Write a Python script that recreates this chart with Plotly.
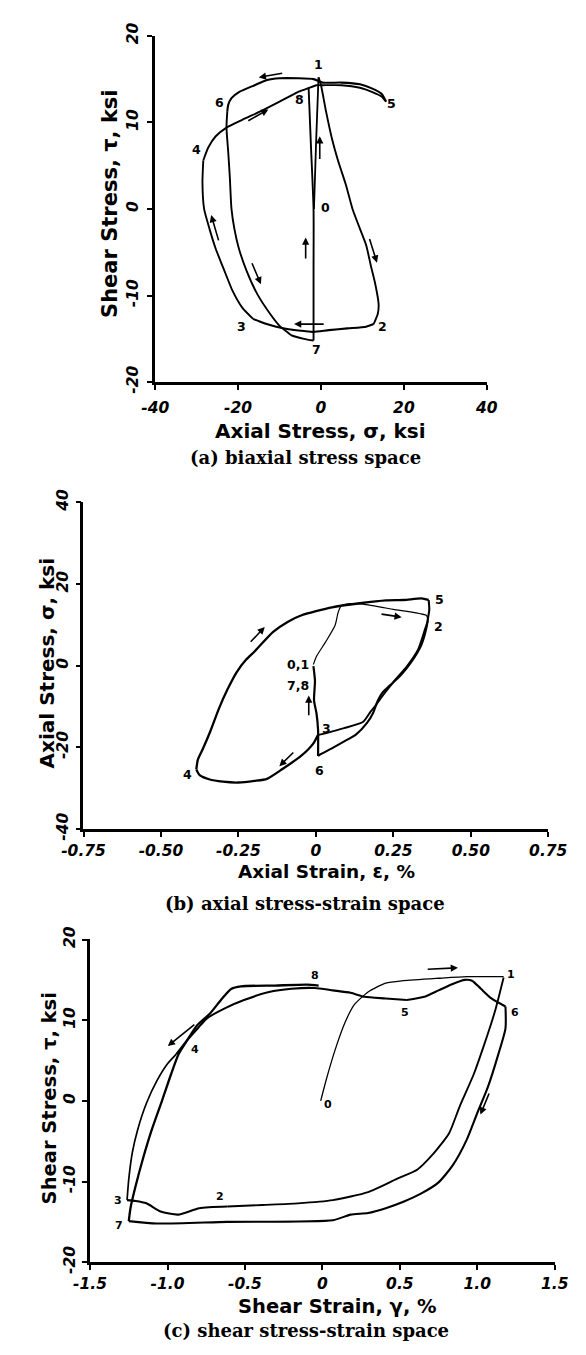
import plotly.graph_objects as go

# ---------------- Panel (a): biaxial stress space (sigma, tau in ksi) -------------
A_SIG_01 = [-1.7, -1.2, -0.6]
A_TAU_01 = [0.0, 7.5, 15.2]
A_SIG_12 = [-0.6, 0.0, 1.2, 2.6, 4.1, 6.0, 7.6, 9.4, 10.9, 12.0, 13.1, 13.9, 13.7, 12.7]
A_TAU_12 = [15.2, 14.3, 11.3, 8.2, 5.6, 2.8, 0.0, -2.3, -4.2, -6.5, -8.7, -11.0, -12.1, -13.3]
A_SIG_23 = [12.7, 10.9, 6.4, 1.9, -1.8, -4.1, -7.8, -10.8, -13.1, -15.3, -16.4]
A_TAU_23 = [-13.3, -13.6, -13.8, -14.0, -14.2, -14.1, -13.9, -13.6, -13.3, -12.9, -12.7]
A_SIG_34 = [-16.4, -19.0, -21.3, -23.5, -25.4, -26.9, -28.2, -28.6, -28.4]
A_TAU_34 = [-12.7, -11.4, -9.5, -6.9, -4.6, -2.3, 0.0, 3.0, 5.6]
A_SIG_45 = [-28.4, -27.2, -25.4, -22.8, -19.0, -14.5, -10.0, -5.6, -3.3, -1.1, 0.4, 4.9, 9.4, 12.4, 14.6, 15.7]
A_TAU_45 = [5.6, 7.1, 8.4, 9.4, 10.3, 11.3, 12.4, 13.5, 13.9, 14.3, 14.3, 14.3, 14.0, 13.5, 13.0, 12.4]
A_SIG_56 = [15.7, 14.6, 12.4, 9.4, 4.9, 0.4, -1.8, -5.6, -10.0, -13.0, -16.0, -19.8, -21.6, -22.4, -22.6]
A_TAU_56 = [12.4, 13.3, 13.9, 14.4, 14.6, 14.6, 15.0, 15.1, 15.1, 14.9, 14.3, 13.5, 12.8, 12.0, 11.3]
A_SIG_67 = [-22.6, -22.8, -22.4, -22.0, -21.6, -20.9, -19.8, -17.9, -15.3, -12.3, -10.0, -8.2, -7.1, -4.1, -1.8]
A_TAU_67 = [11.3, 9.4, 6.7, 3.7, 0.0, -2.3, -4.6, -7.2, -9.9, -12.1, -13.5, -14.2, -14.6, -15.0, -15.2]
A_SIG_78 = [-1.8, -1.8, -1.8, -2.4, -3.0]
A_TAU_78 = [-15.2, -7.0, 0.0, 7.0, 14.1]
A_LABELS = ["0", "1", "2", "3", "4", "5", "6", "7", "8"]
A_LAB_SIG = [1.0, -0.7, 14.8, -19.2, -30.0, 17.0, -24.4, -1.0, -5.3]
A_LAB_TAU = [0.2, 16.7, -13.6, -13.6, 6.9, 12.2, 12.3, -16.2, 12.6]
# arrows: tail -> head
A_ARR_SIG_TAIL = [-9.0, -17.9, -0.3, -3.7, 11.6, -24.6, -16.8, 1.0]
A_ARR_TAU_TAIL = [15.7, 10.1, 5.6, -5.9, -3.3, -3.8, -6.1, -13.3]
A_ARR_SIG_HEAD = [-15.0, -12.7, -0.3, -3.7, 13.5, -26.5, -14.5, -6.5]
A_ARR_TAU_HEAD = [15.2, 11.5, 8.4, -3.3, -6.2, -0.7, -8.7, -13.3]

# ---------------- Panel (b): axial stress-strain space (eps %, sigma ksi) ---------
B_EPS_12 = [-0.008, 0.002, 0.032, 0.062, 0.072, 0.082, 0.11, 0.152, 0.25, 0.357, 0.362]
B_SIG_12 = [0.3, 2.3, 5.9, 9.9, 13.1, 14.7, 15.2, 15.1, 13.8, 12.3, 11.1]
B_EPS_23 = [0.362, 0.352, 0.330, 0.295, 0.25, 0.216, 0.193, 0.176, 0.153, 0.091, 0.034, 0.006]
B_SIG_23 = [11.1, 8.9, 4.0, 0.0, -4.0, -7.3, -9.7, -11.3, -13.7, -15.3, -16.5, -17.0]
B_EPS_34 = [0.006, -0.008, -0.048, -0.108, -0.158, -0.198, -0.25, -0.30, -0.345, -0.375, -0.386]
B_SIG_34 = [-17.0, -19.0, -22.1, -25.3, -27.7, -28.2, -28.6, -28.4, -27.8, -26.8, -25.4]
B_EPS_45 = [-0.386, -0.381, -0.364, -0.341, -0.313, -0.284, -0.256, -0.225, -0.198, -0.138, -0.09, -0.048, 0.052, 0.142, 0.227, 0.284, 0.341, 0.364]
B_SIG_45 = [-25.4, -23.0, -20.2, -16.1, -10.5, -5.6, -1.6, 1.5, 3.5, 8.3, 10.8, 12.3, 14.3, 15.3, 16.0, 16.1, 16.5, 16.1]
B_EPS_56 = [0.364, 0.366, 0.361, 0.358, 0.341, 0.307, 0.273, 0.239, 0.216, 0.200, 0.185, 0.165, 0.13, 0.09, 0.05, 0.012, 0.007]
B_SIG_56 = [16.1, 13.7, 11.3, 9.7, 5.2, 0.8, -2.4, -4.8, -6.5, -8.5, -11.5, -14.0, -16.8, -18.6, -20.3, -21.8, -22.1]
B_EPS_67 = [0.007, 0.007, 0.002, -0.006, -0.003, -0.008]
B_SIG_67 = [-22.1, -15.7, -11.7, -8.5, -3.7, -0.1]
B_LABELS = ["0,1", "7,8", "3", "6", "2", "5", "4"]
B_LAB_EPS = [-0.058, -0.058, 0.035, 0.012, 0.395, 0.398, -0.415]
B_LAB_SIG = [0.3, -4.9, -15.3, -25.6, 9.5, 16.3, -26.6]
B_ARR_EPS_TAIL = [-0.215, 0.207, -0.023, -0.068]
B_ARR_SIG_TAIL = [5.5, 12.7, -12.5, -20.9]
B_ARR_EPS_HEAD = [-0.165, 0.277, -0.023, -0.118]
B_ARR_SIG_HEAD = [9.5, 11.9, -7.3, -24.6]

# ---------------- Panel (c): shear stress-strain space (gamma %, tau ksi) ---------
C_GAM_01 = [-0.011, 0.023, 0.080, 0.148, 0.205, 0.295, 0.409, 0.523, 0.75, 0.932, 1.170]
C_TAU_01 = [0.0, 2.5, 6.2, 9.8, 11.9, 13.5, 14.6, 14.9, 15.2, 15.4, 15.4]
C_GAM_12 = [1.170, 1.114, 1.045, 0.977, 0.886, 0.818, 0.705, 0.614, 0.477, 0.295, 0.068, -0.159, -0.386, -0.614]
C_TAU_12 = [15.3, 11.1, 7.0, 3.3, -0.7, -4.0, -6.8, -8.5, -9.7, -11.3, -12.3, -12.7, -12.9, -13.1]
C_GAM_23 = [-0.614, -0.795, -0.932, -1.045, -1.136, -1.205, -1.261]
C_TAU_23 = [-13.1, -13.3, -14.1, -13.7, -12.7, -12.4, -12.3]
C_GAM_34 = [-1.261, -1.25, -1.227, -1.193, -1.136, -1.068, -1.0, -0.943]
C_TAU_34 = [-12.3, -9.7, -6.4, -3.6, -0.3, 2.5, 4.6, 5.8]
C_GAM_45 = [-0.943, -0.87, -0.80, -0.747, -0.627, -0.506, -0.345, -0.2, -0.05, 0.068, 0.182, 0.273, 0.409, 0.545]
C_TAU_45 = [5.8, 7.6, 9.1, 10.2, 11.5, 12.5, 13.5, 13.9, 14.0, 13.7, 13.4, 12.9, 12.7, 12.5]
C_GAM_56 = [0.545, 0.659, 0.75, 0.841, 0.920, 0.966, 1.023, 1.091, 1.182]
C_TAU_56 = [12.5, 12.9, 13.7, 14.5, 15.0, 14.9, 13.9, 12.7, 11.7]
C_GAM_67 = [1.182, 1.182, 1.136, 1.068, 1.0, 0.932, 0.841, 0.75, 0.636, 0.523, 0.409, 0.295, 0.182, 0.068, -0.614, -1.068, -1.25]
C_TAU_67 = [11.7, 9.0, 5.8, 1.7, -1.5, -4.8, -8.0, -10.1, -11.5, -12.5, -13.3, -13.9, -14.1, -14.8, -15.0, -15.2, -14.9]
C_GAM_78 = [-1.25, -1.239, -1.205, -1.159, -1.102, -1.034, -0.977, -0.928, -0.87, -0.807, -0.727, -0.647, -0.587, -0.526, -0.305, -0.1, -0.024]
C_TAU_78 = [-14.9, -13.3, -10.5, -7.2, -3.6, 0.1, 3.3, 5.8, 7.6, 9.4, 10.8, 12.7, 13.9, 14.2, 14.3, 14.4, 14.3]
C_LABELS = ["0", "1", "2", "3", "4", "5", "6", "7", "8"]
C_LAB_GAM = [0.034, 1.216, -0.659, -1.318, -0.823, 0.534, 1.245, -1.314, -0.05]
C_LAB_TAU = [-0.4, 15.7, -11.9, -12.3, 6.4, 11.0, 11.0, -15.4, 15.5]
C_ARR_GAM_TAIL = [0.67, 1.08, -0.817]
C_ARR_TAU_TAIL = [16.3, 1.1, 9.6]
C_ARR_GAM_HEAD = [0.875, 1.02, -0.998]
C_ARR_TAU_HEAD = [16.5, -1.7, 6.8]

# ---------------- Axes, ticks, titles ----------------
A_XTICKS = [-40, -20, 0, 20, 40]
A_XTEXT = ["-40", "-20", "0", "20", "40"]
A_YTICKS = [-20, -10, 0, 10, 20]
A_YTEXT = ["-20", "-10", "0", "10", "20"]
B_XTICKS = [-0.75, -0.5, -0.25, 0, 0.25, 0.5, 0.75]
B_XTEXT = ["-0.75", "-0.50", "-0.25", "0", "0.25", "0.50", "0.75"]
B_YTICKS = [-40, -20, 0, 20, 40]
B_YTEXT = ["-40", "-20", "0", "20", "40"]
C_XTICKS = [-1.5, -1.0, -0.5, 0, 0.5, 1.0, 1.5]
C_XTEXT = ["-1.5", "-1.0", "-0.5", "0", "0.5", "1.0", "1.5"]
C_YTICKS = [-20, -10, 0, 10, 20]
C_YTEXT = ["-20", "-10", "0", "10", "20"]

TITLES_X = ["Axial Stress, σ, ksi", "Axial Strain, ε, %", "Shear Strain, γ, %"]
TITLES_Y = ["Shear Stress, τ, ksi", "Axial Stress, σ, ksi", "Shear Stress, τ, ksi"]
CAPTIONS = ["(a) biaxial stress space", "(b) axial stress-strain space", "(c) shear stress-strain space"]

W, H = 586, 1355
def px(x):
    return x / W
def py(y):
    return 1 - y / H

fig = go.Figure()

def add_line(xs, ys, xa, ya, width=2.0):
    fig.add_trace(go.Scatter(x=xs, y=ys, mode="lines", xaxis=xa, yaxis=ya,
                             line=dict(color="black", width=width, shape="spline", smoothing=0.6),
                             hoverinfo="skip", showlegend=False))

# panel a
for xs, ys, w in [(A_SIG_01, A_TAU_01, 1.8), (A_SIG_12, A_TAU_12, 1.9), (A_SIG_23, A_TAU_23, 2.1),
                  (A_SIG_34, A_TAU_34, 1.9), (A_SIG_45, A_TAU_45, 1.9), (A_SIG_56, A_TAU_56, 2.1),
                  (A_SIG_67, A_TAU_67, 1.9), (A_SIG_78, A_TAU_78, 1.9)]:
    add_line(xs, ys, "x", "y", w)
# panel b
for xs, ys, w in [(B_EPS_12, B_SIG_12, 1.2), (B_EPS_23, B_SIG_23, 1.9), (B_EPS_34, B_SIG_34, 2.3),
                  (B_EPS_45, B_SIG_45, 2.3), (B_EPS_56, B_SIG_56, 2.1), (B_EPS_67, B_SIG_67, 2.2)]:
    add_line(xs, ys, "x2", "y2", w)
# panel c
for xs, ys, w in [(C_GAM_01, C_TAU_01, 1.3), (C_GAM_12, C_TAU_12, 1.9), (C_GAM_23, C_TAU_23, 2.1),
                  (C_GAM_34, C_TAU_34, 1.7), (C_GAM_45, C_TAU_45, 2.1), (C_GAM_56, C_TAU_56, 2.1),
                  (C_GAM_67, C_TAU_67, 2.1), (C_GAM_78, C_TAU_78, 2.3)]:
    add_line(xs, ys, "x3", "y3", w)

annotations = []
def point_labels(labels, xs, ys, xr, yr, size):
    for t, x, y in zip(labels, xs, ys):
        annotations.append(dict(x=x, y=y, xref=xr, yref=yr, text=t, showarrow=False,
                                xanchor="center", yanchor="middle",
                                font=dict(family="DejaVu Sans", size=size, color="black", weight="bold")))
def arrows(tx, ty, hx, hy, xr, yr):
    for a, b, c, d in zip(tx, ty, hx, hy):
        annotations.append(dict(x=c, y=d, ax=a, ay=b, xref=xr, yref=yr, axref=xr, ayref=yr,
                                text="", showarrow=True, arrowhead=2, arrowsize=0.9,
                                arrowwidth=1.6, arrowcolor="black"))

point_labels(A_LABELS, A_LAB_SIG, A_LAB_TAU, "x", "y", 12.5)
point_labels(B_LABELS, B_LAB_EPS, B_LAB_SIG, "x2", "y2", 12.5)
point_labels(C_LABELS, C_LAB_GAM, C_LAB_TAU, "x3", "y3", 11)
arrows(A_ARR_SIG_TAIL, A_ARR_TAU_TAIL, A_ARR_SIG_HEAD, A_ARR_TAU_HEAD, "x", "y")
arrows(B_ARR_EPS_TAIL, B_ARR_SIG_TAIL, B_ARR_EPS_HEAD, B_ARR_SIG_HEAD, "x2", "y2")
arrows(C_ARR_GAM_TAIL, C_ARR_TAU_TAIL, C_ARR_GAM_HEAD, C_ARR_TAU_HEAD, "x3", "y3")

title_font = dict(family="DejaVu Sans", color="black", weight="bold")
cap_font = dict(family="DejaVu Serif", size=18, color="black", weight="bold")
# x titles
for t, (x, y, s) in zip(TITLES_X, [(321, 426, 20), (327, 874, 18.5), (339, 1317, 19.5)]):
    annotations.append(dict(x=px(x), y=py(y), xref="paper", yref="paper", text=t, showarrow=False,
                            xanchor="center", yanchor="middle", font=dict(title_font, size=s)))
# y titles
for t, (x, y, s) in zip(TITLES_Y, [(94, 194, 21), (27, 662, 20), (29, 1105, 19.5)]):
    annotations.append(dict(x=px(x), y=py(y), xref="paper", yref="paper", text=t, showarrow=False,
                            textangle=-90, xanchor="center", yanchor="middle",
                            font=dict(title_font, size=s)))
# captions
for t, (x, y) in zip(CAPTIONS, [(305, 453), (304, 907), (305, 1341)]):
    annotations.append(dict(x=px(x), y=py(y), xref="paper", yref="paper", text=t, showarrow=False,
                            xanchor="center", yanchor="middle", font=cap_font))

tick_font = dict(family="DejaVu Sans", size=15.5, color="black", style="italic", weight="bold")
def axis(dom, rng, vals, texts, anchor, is_y=False, standoff=0):
    d = dict(domain=dom, range=rng, anchor=anchor, showline=True, linecolor="black", linewidth=2.5,
             ticks="outside", ticklen=5, tickwidth=1.5, tickcolor="black", showgrid=False,
             zeroline=False, mirror=False, tickmode="array", tickvals=vals, ticktext=texts,
             tickfont=tick_font, ticklabelstandoff=standoff, fixedrange=True)
    if is_y:
        d["tickangle"] = -90
    return d

fig.update_layout(
    width=W, height=H, margin=dict(l=0, r=0, t=0, b=0),
    paper_bgcolor="white", plot_bgcolor="white", showlegend=False,
    xaxis=axis([px(143), px(500)], [-40.05, 40.05], A_XTICKS, A_XTEXT, "y", standoff=4),
    yaxis=axis([py(376), py(23)], [-20.03, 20.03], A_YTICKS, A_YTEXT, "x", True, standoff=3),
    xaxis2=axis([px(66), px(566)], [-0.7505, 0.7505], B_XTICKS, B_XTEXT, "y2"),
    yaxis2=axis([py(831), py(498)], [-40.05, 40.05], B_YTICKS, B_YTEXT, "x2", True, standoff=1),
    xaxis3=axis([px(73), px(573)], [-1.501, 1.501], C_XTICKS, C_XTEXT, "y3"),
    yaxis3=axis([py(1272), py(943)], [-20.03, 20.03], C_YTICKS, C_YTEXT, "x3", True, standoff=1),
    annotations=annotations,
)

fig.write_html("out.html")
